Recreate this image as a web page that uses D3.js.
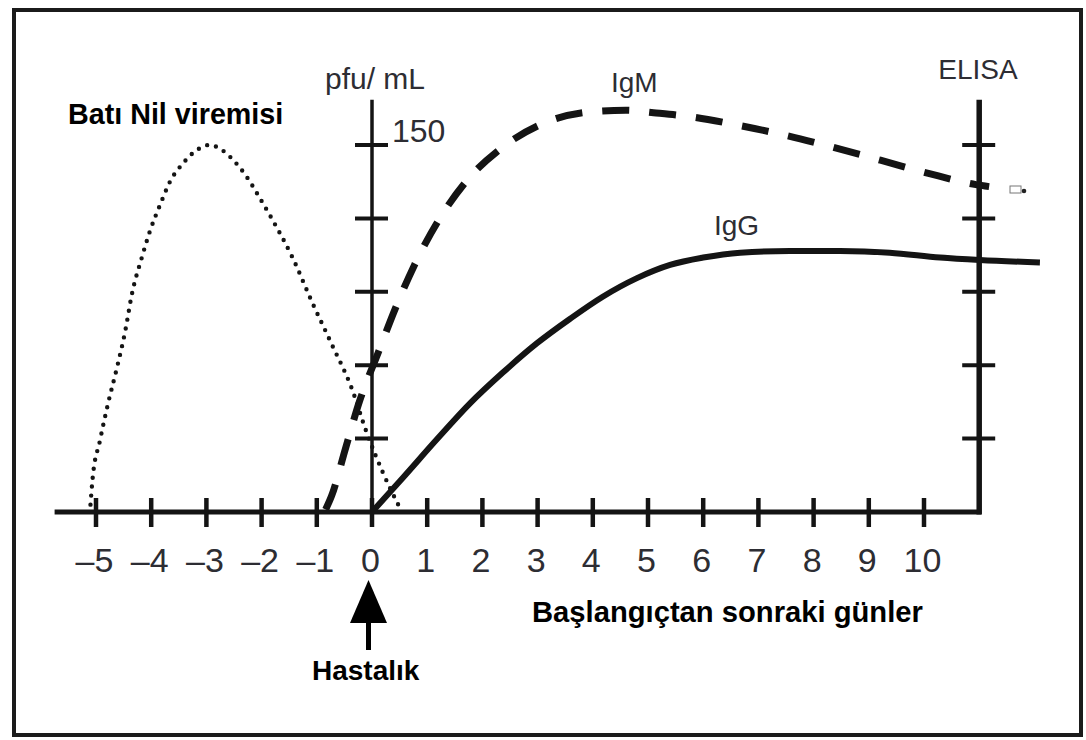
<!DOCTYPE html>
<html>
<head>
<meta charset="utf-8">
<script src="https://cdn.jsdelivr.net/npm/d3@7/dist/d3.min.js"></script>
<style>
  html, body { margin: 0; padding: 0; background: #ffffff; }
  svg { display: block; }
</style>
</head>
<body>
<script>
// ---------- data ----------
const xTickDays = [-5,-4,-3,-2,-1,0,1,2,3,4,5,6,7,8,9,10];
const xTickLabels = ["–5","–4","–3","–2","–1","0","1","2","3","4","5","6","7","8","9","10"];
const yTickValues = [30, 60, 90, 120, 150];
const yTopLabel = "150";

// West Nile viremia (day, pfu/mL scale units)
const viremia = [
  [-5.1,3],[-5.06,14],[-4.93,29],[-4.78,44.5],[-4.62,59],[-4.47,74],[-4.35,89],
  [-4.17,104],[-4.02,115],[-3.84,125.5],[-3.66,135],[-3.42,142.6],[-3.17,148],
  [-2.95,150],[-2.72,148],[-2.52,144],[-2.27,137],[-2.05,129],[-1.83,120.5],
  [-1.44,104],[-1.09,86],[-0.73,68.6],[-0.37,50.7],[-0.1,32.7],[0.2,16],[0.52,1]
];
// IgM (dashed)
const igm = [
  [-0.84,1],[-0.73,6.7],[-0.48,26],[-0.23,45],[0.11,65],[0.42,83],[0.77,101],
  [1.2,119],[1.72,135.5],[2.36,149],[3.12,159],[3.98,163.6],[4.6,164.2],[5.1,163.2],
  [5.73,161.7],[6.61,158.2],[7.48,154],[8.36,149],[9.21,143.8],[10.08,138.4],
  [10.94,133.8],[11.18,133]
];
// IgG (solid)
const igg = [
  [0,0],[0.56,14],[1.18,29.8],[1.78,44.5],[2.37,57],[2.99,69],[3.59,79],[4.18,88],
  [4.8,95.6],[5.4,101],[6.0,104],[6.67,106],[7.57,106.7],[8.48,106.7],[9.38,106],
  [10.29,104],[11.01,103],[12.1,102]
];

const axisStartDay = -5.75;
const rightAxisDay = 11;
const axisTopValue = 168.5;

// ---------- drawing ----------
const W = 1086, H = 740;
const svg = d3.select("body").append("svg").attr("width", W).attr("height", H);

const x = d3.scaleLinear().domain([0, 10]).range([372, 924]);
const y = d3.scaleLinear().domain([0, 150]).range([512, 145]);

const ink = "#141414";
const textCol = "#2d2d33";

// frame
svg.append("rect")
  .attr("x", 14).attr("y", 10).attr("width", 1067).attr("height", 725)
  .attr("fill", "none").attr("stroke", "#1b1b1b").attr("stroke-width", 4);

// curves
const lineMono = d3.line().x(d => x(d[0])).y(d => y(d[1])).curve(d3.curveMonotoneX);

svg.append("path").datum(viremia).attr("d", lineMono)
  .attr("fill", "none").attr("stroke", ink).attr("stroke-width", 4.4)
  .attr("stroke-linecap", "round").attr("stroke-dasharray", "0 9");

svg.append("path").datum(igm).attr("d", lineMono)
  .attr("fill", "none").attr("stroke", ink).attr("stroke-width", 7)
  .attr("stroke-dasharray", "27 20");

svg.append("path").datum(igg).attr("d", lineMono)
  .attr("fill", "none").attr("stroke", ink).attr("stroke-width", 6);

// x axis baseline
svg.append("line")
  .attr("x1", x(axisStartDay)).attr("x2", x(rightAxisDay) + 2)
  .attr("y1", y(0)).attr("y2", y(0))
  .attr("stroke", ink).attr("stroke-width", 5);

// x ticks
svg.append("g").selectAll("line").data(xTickDays).join("line")
  .attr("x1", d => x(d)).attr("x2", d => x(d))
  .attr("y1", y(0) - 14).attr("y2", y(0) + 15)
  .attr("stroke", ink).attr("stroke-width", 4.5);

// x tick labels
svg.append("g").selectAll("text").data(xTickDays).join("text")
  .attr("x", d => x(d) - 1.5).attr("y", 572)
  .attr("text-anchor", "middle")
  .attr("font-family", "Liberation Sans, Arial, sans-serif")
  .attr("font-size", 34).attr("fill", textCol)
  .text((d, i) => xTickLabels[i]);

// left vertical axis (at day 0)
svg.append("line")
  .attr("x1", x(0)).attr("x2", x(0))
  .attr("y1", y(axisTopValue)).attr("y2", y(0))
  .attr("stroke", ink).attr("stroke-width", 3.5);
svg.append("g").selectAll("line").data(yTickValues).join("line")
  .attr("x1", x(0) - 17).attr("x2", x(0) + 16)
  .attr("y1", d => y(d)).attr("y2", d => y(d))
  .attr("stroke", ink).attr("stroke-width", 4);

// right vertical axis (ELISA)
svg.append("line")
  .attr("x1", x(rightAxisDay)).attr("x2", x(rightAxisDay))
  .attr("y1", y(axisTopValue)).attr("y2", y(0) + 2.5)
  .attr("stroke", ink).attr("stroke-width", 5.5);
svg.append("g").selectAll("line").data(yTickValues).join("line")
  .attr("x1", x(rightAxisDay) - 17).attr("x2", x(rightAxisDay) + 16)
  .attr("y1", d => y(d)).attr("y2", d => y(d))
  .attr("stroke", ink).attr("stroke-width", 4);

// small artifact mark near the right axis
svg.append("rect").attr("x", 1010).attr("y", 186).attr("width", 11).attr("height", 7)
  .attr("fill", "#fff").attr("stroke", "#777").attr("stroke-width", 1);
svg.append("circle").attr("cx", 1024).attr("cy", 191).attr("r", 2.3).attr("fill", "#222");

// plain text labels
const plain = (t, px, py, size, anchor) => svg.append("text")
  .attr("x", px).attr("y", py).attr("text-anchor", anchor || "start")
  .attr("font-family", "Liberation Sans, Arial, sans-serif")
  .attr("font-size", size).attr("fill", textCol).text(t);

plain("pfu/ mL", 325, 89, 30);
plain(yTopLabel, 392, 142, 32);
plain("IgM", 611, 92, 28);
plain("IgG", 714, 235, 28);
plain("ELISA", 978, 79, 28, "middle");

// bold labels
const bold = (t, px, py, size) => svg.append("text")
  .attr("x", px).attr("y", py)
  .attr("font-family", "Liberation Sans, Arial, sans-serif")
  .attr("font-weight", "bold").attr("font-size", size).attr("fill", "#000").text(t);

bold("Batı Nil viremisi", 68, 124, 28.7);
bold("Başlangıçtan sonraki günler", 532, 622, 29.2);
bold("Hastalık", 312, 680, 28);

// arrow to "Hastalık"
svg.append("line").attr("x1", 368.5).attr("x2", 368.5).attr("y1", 650).attr("y2", 615)
  .attr("stroke", "#000").attr("stroke-width", 5);
svg.append("path")
  .attr("d", "M368.5,580 L387,623 L350,623 Z")
  .attr("fill", "#000");
</script>
</body>
</html>
